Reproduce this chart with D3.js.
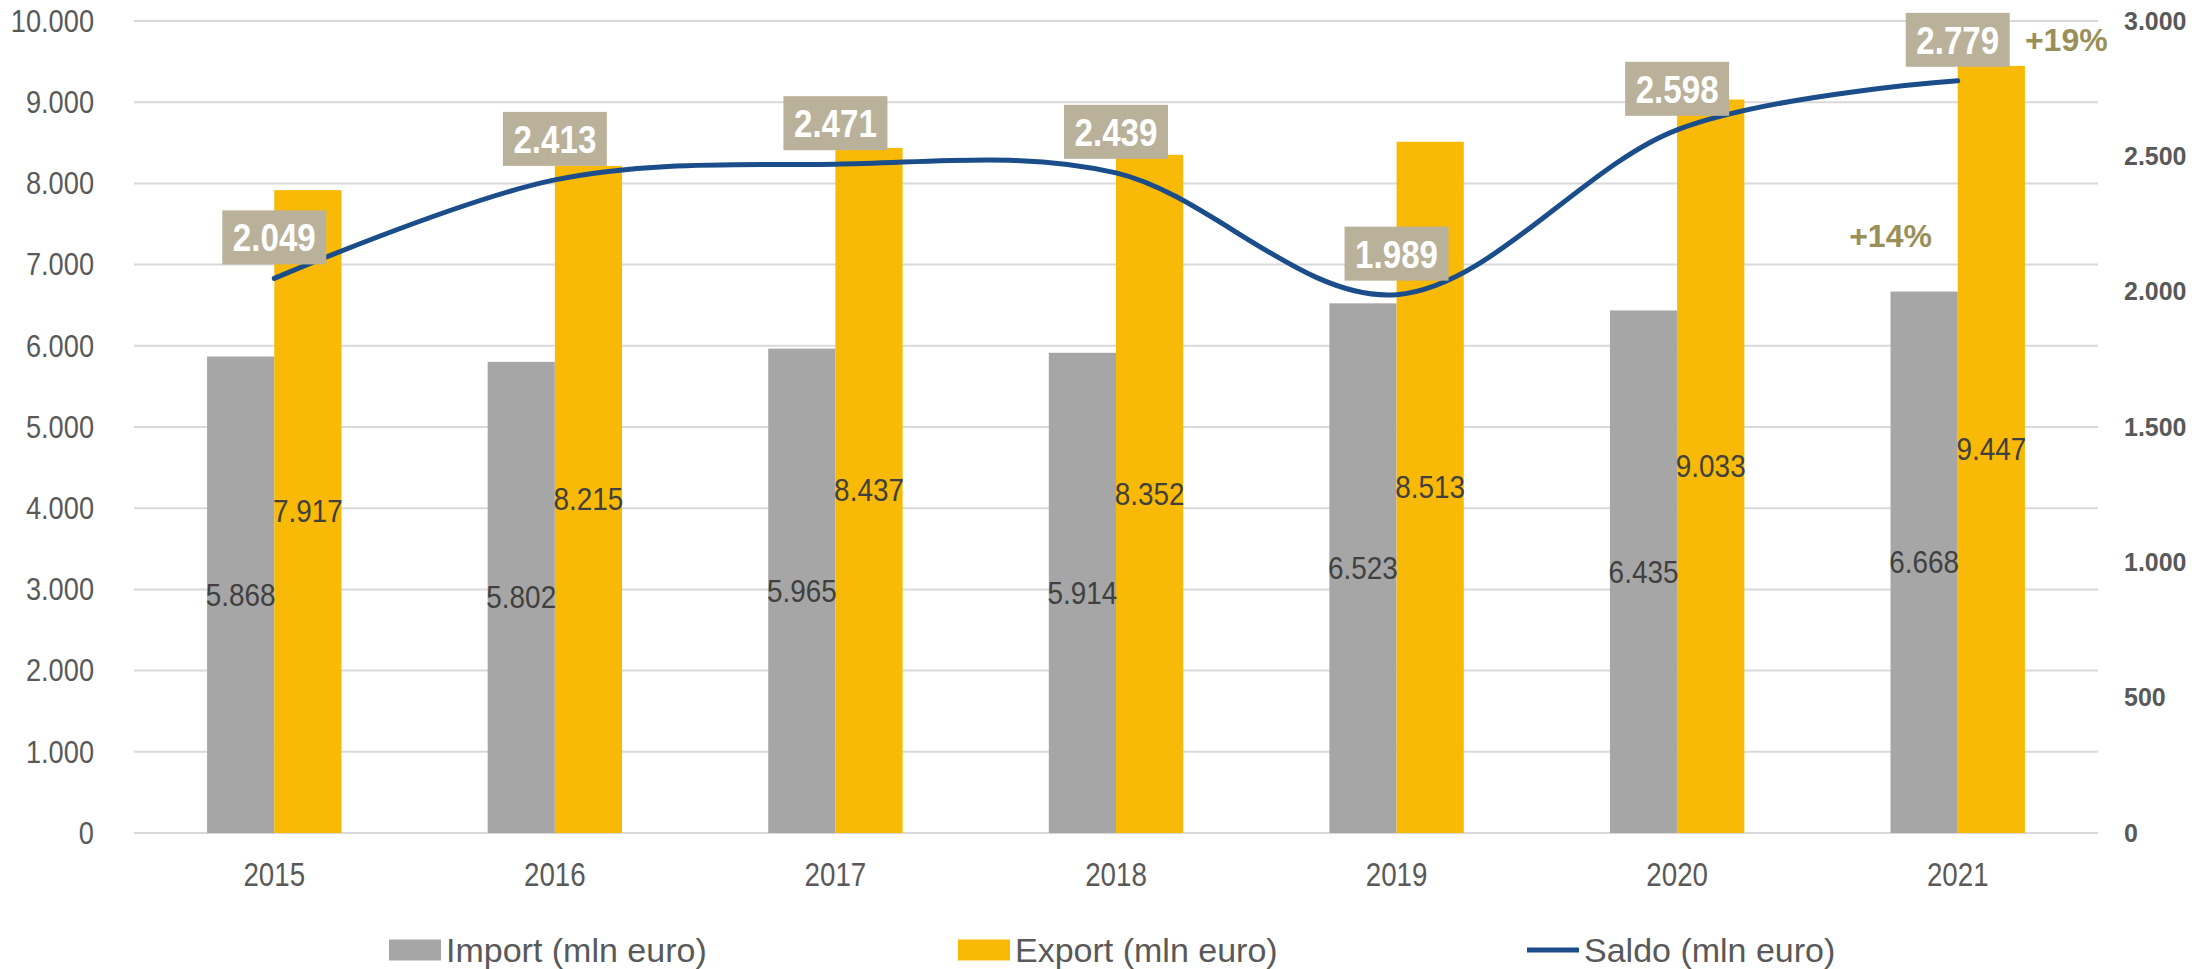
<!DOCTYPE html>
<html>
<head>
<meta charset="utf-8">
<script src="https://cdn.jsdelivr.net/npm/d3@7"></script>
<style>
  html, body { margin: 0; padding: 0; background: #fff; }
  svg { display: block; font-family: "Liberation Sans", Arial, sans-serif; }
</style>
</head>
<body>
<div id="chart"></div>
<script>
// dati
const years = ['2015', '2016', '2017', '2018', '2019', '2020', '2021'];
const importValues = [5868, 5802, 5965, 5914, 6523, 6435, 6668];
const exportValues = [7917, 8215, 8437, 8352, 8513, 9033, 9447];
const saldoValues = [2049, 2413, 2471, 2439, 1989, 2598, 2779];
const leftTicks = [0, 1000, 2000, 3000, 4000, 5000, 6000, 7000, 8000, 9000, 10000];
const rightTicks = [0, 500, 1000, 1500, 2000, 2500, 3000];
const legendLabels = ['Import (mln euro)', 'Export (mln euro)', 'Saldo (mln euro)'];
const growthNotes = ['+19%', '+14%'];

const colors = {
    import: '#A6A6A6',
    export: '#F9B907',
    saldo: '#1B4D8A',
    box: '#B9B19A',
    note: '#9A8F58',
    axis: '#595959',
    label: '#404040',
    grid: '#D9D9D9'
};

const W = 2195, H = 969;
const margin = {top: 21, right: 97, bottom: 136, left: 134};
const width = W - margin.left - margin.right;
const height = H - margin.top - margin.bottom;

const fmt = d3.formatLocale({decimal: ',', thousands: '.', grouping: [3], currency: ['', '']}).format(',d');

// comprime orizzontalmente il testo (il riferimento ha caratteri stretti)
function squeeze(sel, k) {
    sel.each(function() {
        const len = this.getComputedTextLength();
        d3.select(this).attr('textLength', len * k).attr('lengthAdjust', 'spacingAndGlyphs');
    });
}

const svg = d3.select('#chart')
    .append('svg')
    .attr('width', W)
    .attr('height', H);

const g = svg.append('g')
    .attr('transform', `translate(${margin.left},${margin.top})`);

// scale
const x = d3.scaleBand().domain(years).range([0, width]).padding(0);
const barW = x.bandwidth() * 0.2395;
const xSub = d3.scaleBand().domain(['import', 'export']).range([x.bandwidth() / 2 - barW, x.bandwidth() / 2 + barW]);
const yLeft = d3.scaleLinear().domain([0, 10000]).range([height, 0]);
const yRight = d3.scaleLinear().domain([0, 3000]).range([height, 0]);

// griglia
g.append('g')
    .selectAll('line')
    .data(leftTicks)
    .join('line')
    .attr('x1', 0)
    .attr('x2', width)
    .attr('y1', d => yLeft(d))
    .attr('y2', d => yLeft(d))
    .attr('stroke', colors.grid)
    .attr('stroke-width', 2);

// asse sinistro
const leftAxis = g.append('g')
    .call(d3.axisLeft(yLeft).tickValues(leftTicks).tickFormat(fmt).tickSize(0).tickPadding(40));
leftAxis.select('.domain').remove();
leftAxis.selectAll('text')
    .attr('fill', colors.axis)
    .style('font-size', '32px')
    .call(squeeze, 0.85);

// asse destro
const rightAxis = g.append('g')
    .attr('transform', `translate(${width},0)`)
    .call(d3.axisRight(yRight).tickValues(rightTicks).tickFormat(fmt).tickSize(0).tickPadding(26));
rightAxis.select('.domain').remove();
rightAxis.selectAll('text')
    .attr('fill', colors.axis)
    .style('font-size', '26px')
    .style('font-weight', 'bold')
    .call(squeeze, 0.96);

// asse x
const xAxis = g.append('g')
    .attr('transform', `translate(0,${height})`)
    .call(d3.axisBottom(x).tickSize(0).tickPadding(30));
xAxis.select('.domain').remove();
xAxis.selectAll('text')
    .attr('fill', colors.axis)
    .style('font-size', '33px')
    .call(squeeze, 0.84);

// barre
const groups = g.append('g')
    .selectAll('g')
    .data(years.map((yr, i) => ({year: yr, import: importValues[i], export: exportValues[i]})))
    .join('g')
    .attr('transform', d => `translate(${x(d.year)},0)`);

['import', 'export'].forEach(key => {
    groups.append('rect')
        .attr('x', xSub(key))
        .attr('y', d => yLeft(d[key]))
        .attr('width', xSub.bandwidth())
        .attr('height', d => height - yLeft(d[key]))
        .attr('fill', colors[key]);
});

// etichette barre (al centro)
['import', 'export'].forEach(key => {
    groups.append('text')
        .attr('x', xSub(key) + xSub.bandwidth() / 2)
        .attr('y', d => (yLeft(d[key]) + height) / 2)
        .attr('dy', '0.35em')
        .attr('text-anchor', 'middle')
        .attr('fill', colors.label)
        .style('font-size', '31px')
        .text(d => fmt(d[key]))
        .call(squeeze, 0.9);
});

// linea saldo
const saldoData = years.map((yr, i) => ({year: yr, value: saldoValues[i]}));
const line = d3.line()
    .x(d => x(d.year) + x.bandwidth() / 2)
    .y(d => yRight(d.value))
    .curve(d3.curveCardinal.tension(0));

g.append('path')
    .datum(saldoData)
    .attr('d', line)
    .attr('fill', 'none')
    .attr('stroke', colors.saldo)
    .attr('stroke-width', 5)
    .attr('stroke-linecap', 'round');

// etichette saldo
const boxW = 104, boxH = 54, boxGap = 14;
const saldoLabels = g.append('g')
    .selectAll('g')
    .data(saldoData)
    .join('g')
    .attr('transform', d => `translate(${x(d.year) + x.bandwidth() / 2},${yRight(d.value) - boxGap - boxH})`);

saldoLabels.append('rect')
    .attr('x', -boxW / 2)
    .attr('y', 0)
    .attr('width', boxW)
    .attr('height', boxH)
    .attr('fill', colors.box);

saldoLabels.append('text')
    .attr('x', 0)
    .attr('y', boxH / 2)
    .attr('dy', '0.36em')
    .attr('text-anchor', 'middle')
    .attr('fill', '#fff')
    .style('font-size', '39px')
    .style('font-weight', 'bold')
    .text(d => fmt(d.value))
    .call(squeeze, 0.85);

// note di crescita
const last = saldoData[saldoData.length - 1];
g.append('text')
    .attr('x', x(last.year) + xSub('export') + xSub.bandwidth())
    .attr('y', yRight(last.value) - boxGap - boxH / 2)
    .attr('dy', '0.36em')
    .attr('fill', colors.note)
    .style('font-size', '32px')
    .style('font-weight', 'bold')
    .text(growthNotes[0]);

g.append('text')
    .attr('x', x(last.year) + xSub('import'))
    .attr('y', yRight(2209))
    .attr('dy', '0.36em')
    .attr('text-anchor', 'middle')
    .attr('fill', colors.note)
    .style('font-size', '32px')
    .style('font-weight', 'bold')
    .text(growthNotes[1]);

// legenda
const legend = svg.append('g')
    .attr('transform', `translate(389, 950)`);

legendLabels.forEach((label, i) => {
    const row = legend.append('g')
        .attr('transform', `translate(${i * 569}, 0)`);
    if (i < 2) {
        row.append('rect')
            .attr('x', 0)
            .attr('y', -10.5)
            .attr('width', 52)
            .attr('height', 21)
            .attr('fill', i === 0 ? colors.import : colors.export);
    } else {
        row.append('line')
            .attr('x1', 0)
            .attr('x2', 52)
            .attr('y1', 0)
            .attr('y2', 0)
            .attr('stroke', colors.saldo)
            .attr('stroke-width', 5);
    }
    row.append('text')
        .attr('x', 57)
        .attr('y', 0)
        .attr('dy', '0.36em')
        .attr('fill', colors.axis)
        .style('font-size', '34px')
        .text(label);
});
</script>
</body>
</html>
